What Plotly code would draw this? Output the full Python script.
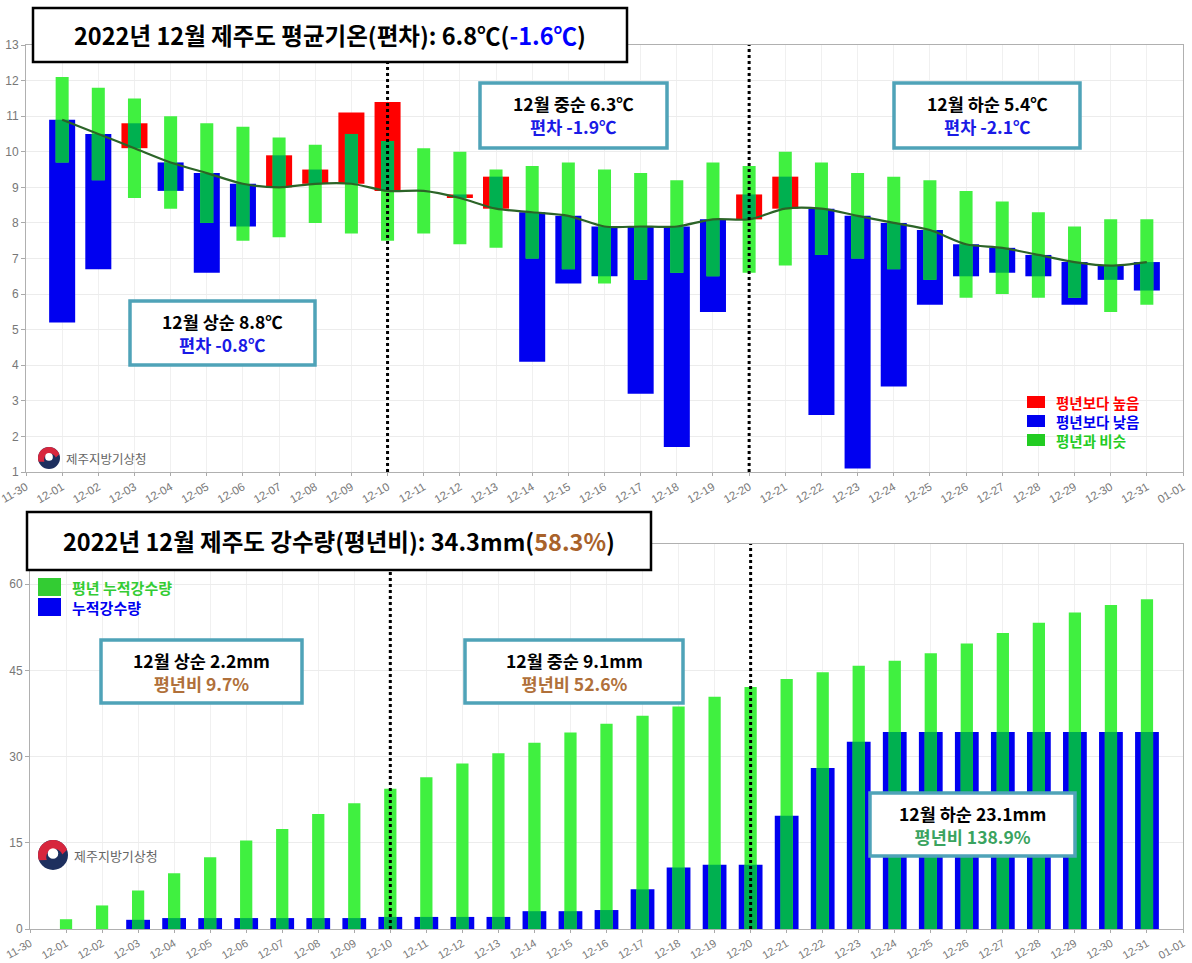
import plotly.graph_objects as go
import math

W, H = 1192, 963
def X(x): return x / W
def Y(y): return 1 - y / H

# ---------------- data ----------------
days = [f"2022-12-{d:02d}" for d in range(1, 32)]

temp_actual = [5.2, 6.7, 10.8, 8.9, 6.6, 7.9, 9.9, 9.5, 11.1, 11.4,
               8.9, 8.8, 9.3, 4.1, 6.3, 6.5, 3.2, 1.7, 5.5, 8.8,
               9.3, 2.6, 1.1, 3.4, 5.7, 6.5, 6.6, 6.5, 5.7, 6.4, 6.1]
temp_normal = [10.9, 10.5, 10.1, 9.7, 9.4, 9.1, 9.0, 9.1, 9.1, 8.9,
               8.9, 8.7, 8.4, 8.3, 8.2, 7.9, 7.9, 7.9, 8.1, 8.1,
               8.4, 8.4, 8.2, 8.0, 7.8, 7.4, 7.3, 7.1, 6.9, 6.8, 6.9]
normal_hi = [12.1, 11.8, 11.5, 11.0, 10.8, 10.7, 10.4, 10.2, 10.5, 10.3,
             10.1, 10.0, 9.5, 9.6, 9.7, 9.5, 9.4, 9.2, 9.7, 9.6,
             10.0, 9.7, 9.4, 9.3, 9.2, 8.9, 8.6, 8.3, 7.9, 8.1, 8.1]
normal_lo = [9.7, 9.2, 8.7, 8.4, 8.0, 7.5, 7.6, 8.0, 7.7, 7.5,
             7.7, 7.4, 7.3, 7.0, 6.7, 6.3, 6.4, 6.6, 6.5, 6.6,
             6.8, 7.1, 7.0, 6.7, 6.4, 5.9, 6.0, 5.9, 5.9, 5.5, 5.7]

rain_normal = [1.7, 4.1, 6.7, 9.7, 12.5, 15.4, 17.4, 20.0, 21.9, 24.4,
               26.4, 28.8, 30.6, 32.4, 34.2, 35.7, 37.1, 38.7, 40.4, 42.1,
               43.5, 44.7, 45.8, 46.7, 48.0, 49.7, 51.5, 53.3, 55.1, 56.4, 57.4]
rain_actual = [0.0, 0.0, 1.6, 1.9, 1.9, 1.9, 1.9, 1.9, 1.9, 2.1,
               2.1, 2.1, 2.1, 3.1, 3.1, 3.3, 6.9, 10.7, 11.2, 11.2,
               19.7, 28.0, 32.6, 34.3, 34.3, 34.3, 34.3, 34.3, 34.3, 34.3, 34.3]

RED, BLUE, LGREEN, DGREEN = "#ff0000", "#0000f0", "#40f040", "#00b050"
DAY = 86400000
KFONT = "Noto Sans CJK KR, Noto Sans, sans-serif"

fig = go.Figure()

# ---------------- top: temperature ----------------
dev = [a - m for a, m in zip(temp_actual, temp_normal)]
fig.add_trace(go.Bar(x=days, y=dev, base=temp_normal, width=0.72 * DAY,
                     marker=dict(color=[RED if d > 0 else BLUE for d in dev], line_width=0),
                     xaxis="x", yaxis="y", showlegend=False))
fig.add_trace(go.Bar(x=days, y=[h - l for h, l in zip(normal_hi, normal_lo)], base=normal_lo,
                     width=0.36 * DAY, marker=dict(color=LGREEN, line_width=0),
                     xaxis="x", yaxis="y", showlegend=False))
ov_lo, ov_h = [], []
for a, m, h, l in zip(temp_actual, temp_normal, normal_hi, normal_lo):
    lo = max(min(a, m), l)
    hi = min(max(a, m), h)
    ov_lo.append(lo)
    ov_h.append(max(hi - lo, 0))
fig.add_trace(go.Bar(x=days, y=ov_h, base=ov_lo, width=0.36 * DAY,
                     marker=dict(color=DGREEN, line_width=0),
                     xaxis="x", yaxis="y", showlegend=False))
fig.add_trace(go.Scatter(x=days, y=temp_normal, mode="lines",
                         line=dict(color="#2c6428", width=2.2, shape="spline", smoothing=0.8),
                         xaxis="x", yaxis="y", showlegend=False))

# ---------------- bottom: precipitation ----------------
fig.add_trace(go.Bar(x=days, y=rain_actual, width=0.66 * DAY,
                     marker=dict(color=BLUE, line_width=0),
                     xaxis="x2", yaxis="y2", showlegend=False))
fig.add_trace(go.Bar(x=days, y=rain_normal, width=0.34 * DAY,
                     marker=dict(color=LGREEN, line_width=0),
                     xaxis="x2", yaxis="y2", showlegend=False))
fig.add_trace(go.Bar(x=days, y=[min(a, n) for a, n in zip(rain_actual, rain_normal)],
                     width=0.34 * DAY, marker=dict(color=DGREEN, line_width=0),
                     xaxis="x2", yaxis="y2", showlegend=False))

FAM = "Liberation Sans Narrow, Liberation Sans, Arial, sans-serif"
tickfont = dict(family=FAM, size=12, color="#777")
xcommon = dict(type="date", range=["2022-11-30", "2023-01-01"], tick0="2022-11-30",
               dtick=DAY, tickformat="%m-%d", tickangle=-30, showgrid=True,
               gridcolor="#f0f0f0", showline=True, linecolor="#b0b0b0", mirror=True,
               ticks="outside", ticklen=3, tickcolor="#aaa",
               zeroline=False, automargin=False, ticklabeloverflow="allow")
ycommon = dict(showgrid=True, gridcolor="#ececec", showline=True, linecolor="#b0b0b0",
               mirror=True, ticks="outside", ticklen=4, tickcolor="#aaa",
               tickfont=tickfont, zeroline=False, automargin=False, ticklabeloverflow="allow")

fig.update_layout(
    width=W, height=H, margin=dict(l=0, r=0, t=0, b=0, autoexpand=False),
    paper_bgcolor="white", plot_bgcolor="white", barmode="overlay",
    xaxis=dict(domain=[X(26), X(1183)], anchor="y",
               tickfont=dict(family=FAM, size=11.5, color="#777"), **xcommon),
    yaxis=dict(domain=[Y(472), Y(45)], range=[1, 13], dtick=1, anchor="x", **ycommon),
    xaxis2=dict(domain=[X(30), X(1183)], anchor="y2",
                tickfont=dict(family=FAM, size=11, color="#777"), **xcommon),
    yaxis2=dict(domain=[Y(929), Y(544)], range=[0, 67], tickvals=[0, 15, 30, 45, 60],
                anchor="x2", **ycommon),
)

shapes = []
# dotted dekad separators
for xr, yr in (("x", "y domain"), ("x2", "y2 domain")):
    for d in ("2022-12-10", "2022-12-20"):
        shapes.append(dict(type="line", xref=xr, yref=yr, x0=d, x1=d, y0=0, y1=1,
                           line=dict(color="black", width=3, dash="dot"), layer="above"))

def box(x0, y0, x1, y1, color, width):
    shapes.append(dict(type="rect", xref="paper", yref="paper", x0=X(x0), x1=X(x1),
                       y0=Y(y1), y1=Y(y0), line=dict(color=color, width=width),
                       fillcolor="white", layer="above"))

annotations = []
def text(x, y, t, size, color="black", xanchor="center"):
    annotations.append(dict(xref="paper", yref="paper", x=X(x), y=Y(y), text=t,
                            showarrow=False, xanchor=xanchor, yanchor="middle",
                            font=dict(family=KFONT, size=size, color=color)))

# title boxes
box(33, 8, 627, 62, "black", 2.5)
text(330, 35, "<b>2022년 12월 제주도 평균기온(편차): 6.8℃(<span style='color:#0000ff'>-1.6℃</span>)</b>", 23.5)
box(27, 512, 651, 570, "black", 2.5)
text(339, 541, "<b>2022년 12월 제주도 강수량(평년비): 34.3mm(<span style='color:#a8622a'>58.3%</span>)</b>", 23.5)

TEAL = "#4fa3b8"
def infobox(x0, y0, x1, y1, l1, l2, c2):
    box(x0, y0, x1, y1, TEAL, 3.5)
    text((x0 + x1) / 2, (y0 + y1) / 2,
         f"<b>{l1}</b><br><b><span style='color:{c2}'>{l2}</span></b>", 17.5)

infobox(130, 301, 315, 365, "12월 상순 8.8℃", "편차 -0.8℃", "#1a1ae6")
infobox(480, 83, 667, 148, "12월 중순 6.3℃", "편차 -1.9℃", "#1a1ae6")
infobox(894, 83, 1080, 148, "12월 하순 5.4℃", "편차 -2.1℃", "#1a1ae6")
infobox(101, 640, 302, 703, "12월 상순 2.2mm", "평년비 9.7%", "#b0703a")
infobox(465, 640, 683, 703, "12월 중순 9.1mm", "평년비 52.6%", "#b0703a")
infobox(870, 793, 1075, 856, "12월 하순 23.1mm", "평년비 138.9%", "#3aa35f")

# legends (top, lower right)
for yy, col, lab in ((402, RED, "평년보다 높음"), (421, BLUE, "평년보다 낮음"), (440, "#22cc22", "평년과 비슷")):
    shapes.append(dict(type="rect", xref="paper", yref="paper", x0=X(1027), x1=X(1045),
                       y0=Y(yy + 6), y1=Y(yy - 6), fillcolor=col, line_width=0, layer="above"))
    text(1054, yy, f"<b>{lab}</b>", 14.5, col, "left")
# legends (bottom, upper left)
for yy, col, lab in ((587, "#33cc33", "평년 누적강수량"), (607, BLUE, "누적강수량")):
    shapes.append(dict(type="rect", xref="paper", yref="paper", x0=X(38), x1=X(61),
                       y0=Y(yy + 9), y1=Y(yy - 9), fillcolor=col, line_width=0, layer="above"))
    text(70, yy, f"<b>{lab}</b>", 15, col, "left")

# agency logos
def logo(cx, cy, r, tx, size):
    shapes.append(dict(type="circle", xref="paper", yref="paper", x0=X(cx - r), x1=X(cx + r),
                       y0=Y(cy + r), y1=Y(cy - r), fillcolor="#1d2f5e", line_width=0, layer="above"))
    pts = []
    for k in range(0, 21):
        ang = math.radians(200 - k * 9)
        pts.append((cx + r * math.cos(ang), cy - r * math.sin(ang)))
    for k in range(0, 21):
        ang = math.radians(20 + k * 9)
        pts.append((cx + 0.55 * r * math.cos(ang) + 0.1 * r, cy - 0.55 * r * math.sin(ang) + 0.15 * r))
    path = "M " + " L ".join(f"{X(px):.5f},{Y(py):.5f}" for px, py in pts) + " Z"
    shapes.append(dict(type="path", xref="paper", yref="paper", path=path,
                       fillcolor="#d7263d", line_width=0, layer="above"))
    shapes.append(dict(type="circle", xref="paper", yref="paper", x0=X(cx - 0.35 * r), x1=X(cx + 0.35 * r),
                       y0=Y(cy + 0.25 * r), y1=Y(cy - 0.45 * r), fillcolor="white", line_width=0, layer="above"))
    text(tx, cy, "제주지방기상청", size, "#666", "left")

logo(49, 458, 11, 64, 12.5)
logo(53, 855, 15, 72, 13)

fig.update_layout(shapes=shapes, annotations=annotations)

fig.write_html("out.html", config={"displayModeBar": False},
               post_script="document.body.style.margin='0px';")
